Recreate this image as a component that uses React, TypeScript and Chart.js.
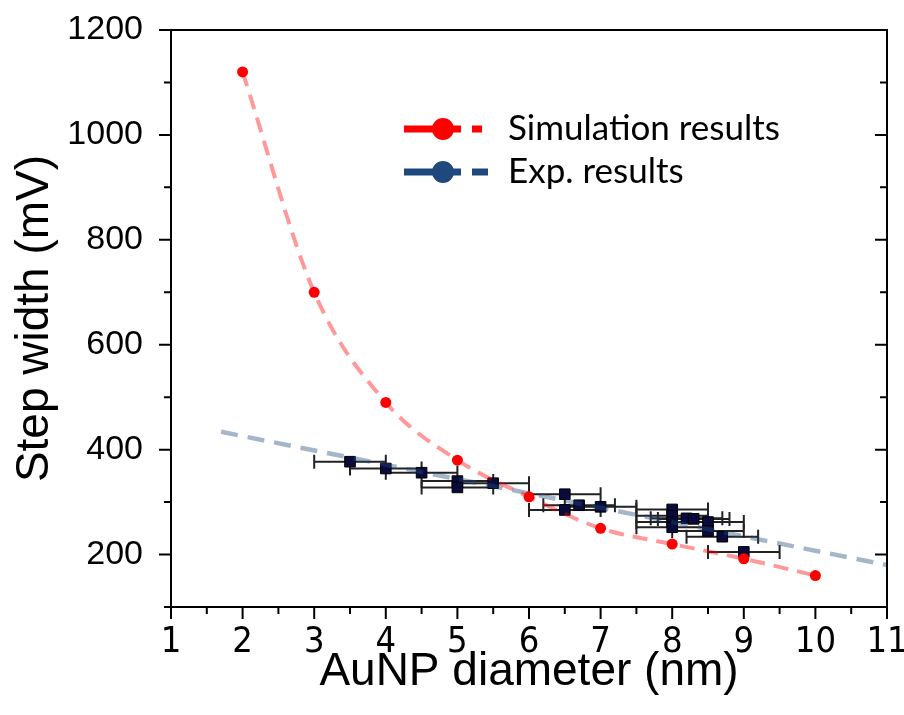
import React, { useEffect, useRef } from 'react';
import { Chart, registerables } from 'chart.js';

Chart.register(...registerables);

// ---- Data ----
const simDiameter = [2, 3, 4, 5, 6, 7, 8, 9, 10];
const simStepWidth = [1120, 700, 490, 380, 310, 250, 220, 192, 160];

const expDiameter = [3.5, 4.0, 4.5, 5.0, 5.0, 5.5, 6.5, 6.5, 6.7, 7.0, 8.0, 8.0, 8.0, 8.0, 8.2, 8.3, 8.5, 8.5, 8.7, 9.0];
const expStepWidth = [377, 364, 356, 340, 328, 336, 315, 285, 294, 291, 286, 274, 262, 252, 269, 268, 262, 245, 234, 205];
const expDiameterErr = [0.5, 0.5, 0.5, 0.5, 0.5, 0.5, 0.5, 0.5, 0.5, 0.5, 0.5, 0.5, 0.5, 0.5, 0.5, 0.5, 0.5, 0.5, 0.5, 0.5];

const expFitDiameter = [1.7, 11];
const expFitStepWidth = [434, 180];

const xTickValues = [1, 2, 3, 4, 5, 6, 7, 8, 9, 10, 11];
const xMinorTickValues = [1.5, 2.5, 3.5, 4.5, 5.5, 6.5, 7.5, 8.5, 9.5, 10.5];
const yTickValues = [200, 400, 600, 800, 1000, 1200];
const yMinorTickValues = [100, 300, 500, 700, 900, 1100];

const legendLabels = ['Simulation results', 'Exp. results'];

const RED = '#ff0000';
const RED_FIT = 'rgba(255, 0, 0, 0.4)';
const BLUE = '#1f497d';
const BLUE_FIT = 'rgba(31, 73, 125, 0.4)';

const errorBarPlugin = {
  id: 'errorBars',
  beforeDatasetsDraw(chart: any) {
    const { ctx, scales } = chart;
    const x = scales.x;
    const y = scales.y;
    ctx.save();
    ctx.strokeStyle = '#222';
    ctx.lineWidth = 2;
    for (let i = 0; i < expDiameter.length; i++) {
      const x0 = x.getPixelForValue(expDiameter[i] - expDiameterErr[i]);
      const x1 = x.getPixelForValue(expDiameter[i] + expDiameterErr[i]);
      const py = y.getPixelForValue(expStepWidth[i]);
      ctx.beginPath();
      ctx.moveTo(x0, py);
      ctx.lineTo(x1, py);
      ctx.moveTo(x0, py - 7);
      ctx.lineTo(x0, py + 7);
      ctx.moveTo(x1, py - 7);
      ctx.lineTo(x1, py + 7);
      ctx.stroke();
    }
    ctx.restore();
  },
};

const framePlugin = {
  id: 'frame',
  afterDraw(chart: any) {
    const { ctx, chartArea, scales } = chart;
    const { left, right, top, bottom } = chartArea;
    const x = scales.x;
    const y = scales.y;
    ctx.save();
    ctx.strokeStyle = '#000';
    ctx.lineWidth = 2;
    ctx.lineCap = 'square';
    ctx.beginPath();
    ctx.rect(left, top, right - left, bottom - top);
    const seg = (a: number, b: number, c: number, d: number) => {
      ctx.moveTo(a, b);
      ctx.lineTo(c, d);
    };
    yTickValues.forEach((v) => {
      const p = y.getPixelForValue(v);
      seg(left - 11, p, left, p);
      seg(right - 11, p, right, p);
    });
    yMinorTickValues.forEach((v) => {
      const p = y.getPixelForValue(v);
      seg(left - 6, p, left, p);
      seg(right - 6, p, right, p);
    });
    xTickValues.forEach((v) => {
      const p = x.getPixelForValue(v);
      seg(p, bottom, p, bottom + 11);
    });
    xMinorTickValues.forEach((v) => {
      const p = x.getPixelForValue(v);
      seg(p, bottom, p, bottom + 6);
    });
    ctx.stroke();

    // Legend
    const entries = [
      { label: legendLabels[0], color: RED, y: 129, dashEnd: 482 },
      { label: legendLabels[1], color: BLUE, y: 172, dashEnd: 488 },
    ];
    entries.forEach((e) => {
      ctx.strokeStyle = e.color;
      ctx.fillStyle = e.color;
      ctx.lineWidth = 7;
      ctx.lineCap = 'butt';
      ctx.beginPath();
      ctx.moveTo(404, e.y);
      ctx.lineTo(461, e.y);
      ctx.moveTo(472, e.y);
      ctx.lineTo(e.dashEnd, e.y);
      ctx.stroke();
      ctx.beginPath();
      ctx.arc(443, e.y, 11, 0, Math.PI * 2);
      ctx.fill();
      ctx.fillStyle = '#000';
      ctx.font = '35px Lato, "Open Sans", sans-serif';
      ctx.textBaseline = 'middle';
      ctx.textAlign = 'left';
      ctx.fillText(e.label, 508, e.y);
    });
    ctx.restore();
  },
};

export default function App() {
  const canvasRef = useRef<HTMLCanvasElement | null>(null);

  useEffect(() => {
    document.body.style.margin = '0';
    const canvas = canvasRef.current;
    if (!canvas) return;

    const chart = new Chart(canvas, {
      type: 'scatter',
      data: {
        datasets: [
          {
            label: legendLabels[0],
            data: simDiameter.map((d, i) => ({ x: d, y: simStepWidth[i] })),
            showLine: false,
            pointStyle: 'circle',
            pointRadius: 5.5,
            pointBackgroundColor: RED,
            pointBorderWidth: 0,
            borderColor: RED,
            order: 1,
          },
          {
            label: 'Simulation fit',
            data: simDiameter.map((d, i) => ({ x: d, y: simStepWidth[i] })),
            showLine: true,
            cubicInterpolationMode: 'monotone',
            borderColor: RED_FIT,
            borderWidth: 4,
            borderDash: [15, 9],
            pointRadius: 0,
            order: 2,
          },
          {
            label: 'Exp. fit',
            data: expFitDiameter.map((d, i) => ({ x: d, y: expFitStepWidth[i] })),
            showLine: true,
            borderColor: BLUE_FIT,
            borderWidth: 4.5,
            borderDash: [17, 10],
            pointRadius: 0,
            order: 3,
          },
          {
            label: legendLabels[1],
            data: expDiameter.map((d, i) => ({ x: d, y: expStepWidth[i] })),
            showLine: false,
            pointStyle: 'rect',
            pointRadius: 7.5,
            pointBackgroundColor: '#0a0a3c',
            pointBorderColor: '#000',
            pointBorderWidth: 1,
            order: 4,
          },
        ],
      },
      options: {
        responsive: false,
        animation: false,
        layout: { padding: { left: 0, top: 30, right: 17, bottom: 0 } },
        plugins: {
          legend: { display: false },
          tooltip: { enabled: false },
        },
        scales: {
          x: {
            type: 'linear',
            min: 1,
            max: 11,
            afterBuildTicks: (scale: any) => {
              scale.ticks = xTickValues.map((v) => ({ value: v }));
            },
            afterFit: (scale: any) => {
              scale.height = 108;
              scale.paddingLeft = 0;
              scale.paddingRight = 0;
              scale.paddingTop = 0;
              scale.paddingBottom = 0;
            },
            grid: { display: false },
            border: { display: false },
            ticks: {
              padding: 6,
              color: '#000',
              font: { family: '"Liberation Sans Narrow", "DejaVu Sans Condensed", Arial, sans-serif', size: 36 },
              maxRotation: 0,
              callback: (v: any) => String(v),
            },
            title: {
              display: true,
              text: 'AuNP diameter (nm)',
              color: '#000',
              font: { family: '"Liberation Sans", Arial, sans-serif', size: 46 },
              padding: { top: 0, bottom: 15 },
            },
          },
          y: {
            type: 'linear',
            min: 100,
            max: 1200,
            afterBuildTicks: (scale: any) => {
              scale.ticks = yTickValues.map((v) => ({ value: v }));
            },
            afterFit: (scale: any) => {
              scale.width = 171;
              scale.paddingLeft = 0;
              scale.paddingRight = 0;
              scale.paddingTop = 0;
              scale.paddingBottom = 0;
            },
            grid: { display: false },
            border: { display: false },
            ticks: {
              padding: 20,
              color: '#000',
              font: { family: '"Liberation Sans", Arial, sans-serif', size: 34 },
              callback: (v: any) => String(v),
            },
            title: {
              display: true,
              text: 'Step width (mV)',
              color: '#000',
              font: { family: '"Liberation Sans", Arial, sans-serif', size: 46 },
              padding: { top: 8, bottom: 0 },
            },
          },
        },
      },
      plugins: [errorBarPlugin, framePlugin],
    } as any);

    return () => {
      chart.destroy();
    };
  }, []);

  return (
    <div style={{ width: 904, height: 715 }}>
      <canvas ref={canvasRef} width={904} height={715} />
    </div>
  );
}
